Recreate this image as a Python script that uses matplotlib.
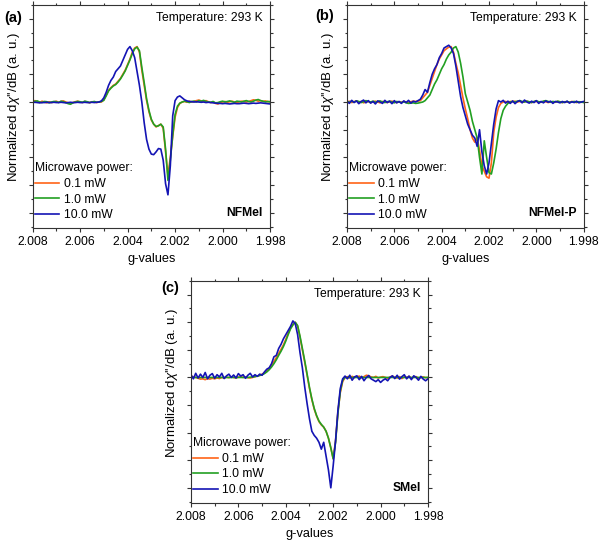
import numpy as np
import matplotlib
matplotlib.use("Agg")
import matplotlib.pyplot as plt
from matplotlib.ticker import MultipleLocator, FormatStrFormatter

plt.rcParams['font.family'] = ['Liberation Sans', 'DejaVu Sans']
plt.rcParams['mathtext.fontset'] = 'custom'
plt.rcParams['mathtext.rm'] = 'Liberation Sans'
plt.rcParams['mathtext.it'] = 'Liberation Sans:italic'

# g-value sampling grid (2.0080 -> 1.9980, step 0.0001)
g_values = np.round(np.linspace(2.008, 1.998, 101), 4)

series_labels = ["0.1 mW", "1.0 mW", "10.0 mW"]
series_colors = ["#ff6418", "#22a022", "#1414b4"]

# ---- Panel (a) NFMel ----
a_01 = [0.02, 0.05, 0.01, -0.02, 0.03, 0.0, -0.03, 0.01, -0.02, 0.0,
        0.03, -0.01, 0.02, 0.04, 0.0, -0.03, -0.05, -0.02, 0.01, 0.03,
        0.0, -0.02, 0.02, 0.0, -0.03, 0.01, 0.0, -0.02, 0.0, 0.0,
        0.08, 0.25, 0.42, 0.52, 0.6, 0.65, 0.75, 0.85, 1.0, 1.15,
        1.35, 1.55, 1.8, 1.95, 2.0, 1.8, 1.15, 0.6, 0.06, -0.35,
        -0.65, -0.8, -0.9, -0.85, -0.8, -0.95, -1.8, -2.65, -2.0, -1.25,
        -0.55, -0.2, -0.05, 0.0, 0.02, -0.01, 0.03, 0.0, 0.02, 0.05,
        0.07, 0.04, 0.02, 0.05, 0.01, -0.02, 0.0, -0.05, -0.07, -0.03,
        0.0, 0.02, -0.01, 0.01, 0.03, 0.0, -0.02, 0.01, 0.03, 0.02,
        0.0, 0.02, 0.05, 0.08, 0.06, 0.03, 0.05, 0.02, 0.04, 0.01,
        0.02]
a_10 = [0.0, 0.03, 0.04, 0.0, -0.02, 0.02, 0.01, -0.03, 0.0, 0.02,
        0.01, -0.02, 0.03, 0.01, -0.02, -0.06, -0.08, -0.03, 0.0, 0.02,
        0.01, -0.01, 0.03, 0.01, -0.02, 0.0, 0.02, -0.01, 0.0, 0.02,
        0.06, 0.22, 0.4, 0.5, 0.58, 0.63, 0.72, 0.83, 0.97, 1.12,
        1.32, 1.52, 1.75, 1.92, 1.98, 1.85, 1.25, 0.7, 0.12, -0.3,
        -0.62, -0.8, -0.88, -0.86, -0.8, -0.9, -1.7, -2.83, -2.1, -1.2,
        -0.45, -0.15, -0.04, 0.0, 0.03, 0.01, -0.02, 0.02, 0.03, 0.0,
        0.05, 0.03, 0.06, 0.02, 0.0, -0.01, 0.02, -0.03, -0.02, 0.01,
        0.03, 0.0, 0.02, 0.04, 0.01, -0.01, 0.03, 0.02, 0.0, 0.03,
        0.05, 0.02, 0.0, 0.03, 0.07, 0.09, 0.05, 0.03, 0.0, 0.02,
        0.0]
a_100 = [-0.02, -0.01, -0.02, -0.03, -0.02, -0.02, -0.01, -0.02, -0.02, -0.01,
         -0.02, -0.02, -0.01, -0.02, -0.03, -0.02, -0.01, -0.02, -0.02, -0.01,
         -0.02, -0.02, -0.01, -0.02, -0.02, -0.01, -0.02, -0.01, 0.0, 0.04,
         0.15, 0.35, 0.6, 0.78, 0.9, 1.1, 1.2, 1.3, 1.5, 1.7,
         1.9, 2.0, 1.85, 1.6, 1.1, 0.6, 0.0, -0.75, -1.35, -1.7,
         -1.88, -1.9, -1.8, -1.68, -1.7, -2.1, -2.95, -3.35, -2.3, -0.5,
         0.05, 0.18, 0.22, 0.15, 0.08, 0.04, 0.02, 0.01, 0.0, 0.01,
         0.0, -0.01, 0.0, -0.02, -0.01, -0.02, -0.03, -0.04, -0.05, -0.05,
         -0.06, -0.05, -0.06, -0.07, -0.06, -0.05, -0.06, -0.06, -0.05, -0.04,
         -0.05, -0.06, -0.05, -0.04, -0.05, -0.04, -0.03, -0.04, -0.05, -0.06,
         -0.07]

# ---- Panel (b) NFMel-P ----
b_01 = [0.0, 0.03, -0.02, 0.01, 0.04, -0.01, 0.02, -0.03, 0.0, 0.02,
        -0.02, 0.01, 0.03, 0.0, -0.03, 0.02, 0.0, -0.02, 0.01, 0.03,
        0.0, -0.02, 0.01, -0.01, 0.02, 0.0, -0.02, 0.01, 0.03, 0.02,
        0.03, 0.05, 0.15, 0.25, 0.35, 0.6, 0.85, 1.1, 1.35, 1.55,
        1.7, 1.85, 1.92, 1.98, 2.0, 1.8, 1.4, 1.05, 0.6, 0.15,
        -0.25, -0.6, -1.0, -1.3, -1.45, -1.3, -1.75, -2.3, -2.5, -2.7,
        -2.75, -2.2, -1.1, -0.55, -0.2, -0.05, 0.0, 0.02, -0.01, 0.02,
        0.01, 0.03, 0.0, 0.02, -0.01, 0.01, 0.03, 0.0, -0.02, 0.01,
        0.02, 0.0, -0.01, 0.02, 0.01, -0.02, 0.0, 0.01, -0.01, 0.02,
        0.0, -0.02, 0.01, 0.0, -0.01, 0.02, 0.0, -0.02, 0.01, -0.01,
        0.0]
b_10 = [0.02, -0.01, 0.03, 0.0, 0.04, 0.02, -0.02, 0.01, 0.05, 0.02,
        0.0, 0.03, -0.01, 0.02, 0.04, 0.0, -0.02, 0.01, 0.03, 0.0,
        -0.03, 0.02, 0.0, -0.02, 0.01, -0.03, -0.05, -0.04, -0.03, -0.05,
        -0.04, -0.02, 0.0, 0.05, 0.15, 0.25, 0.45, 0.65, 0.8, 1.0,
        1.2, 1.35, 1.55, 1.7, 1.8, 1.95, 2.0, 1.8, 1.4, 0.9,
        0.3, 0.0, -0.3, -0.7, -1.0, -1.3, -2.0, -2.6, -1.4, -2.0,
        -2.55, -2.6, -2.2, -1.7, -1.1, -0.6, -0.3, -0.15, -0.05, 0.0,
        0.02, 0.0, 0.03, 0.05, 0.02, 0.0, 0.03, 0.01, -0.02, 0.02,
        0.04, 0.01, 0.0, 0.03, 0.05, 0.02, -0.01, 0.02, 0.0, 0.03,
        0.01, -0.02, 0.0, 0.02, -0.01, 0.0, 0.02, -0.01, 0.01, 0.0,
        -0.02]
b_100 = [0.03, -0.05, 0.06, -0.02, 0.04, -0.06, 0.02, 0.07, -0.03, 0.05,
         -0.04, 0.02, -0.07, 0.04, 0.0, -0.05, 0.06, -0.02, 0.03, -0.06,
         0.05, -0.03, 0.02, -0.05, 0.04, -0.02, 0.06, -0.04, 0.03, 0.0,
         0.05, 0.1, 0.25, 0.45, 0.35, 0.7, 1.0, 1.2, 1.35, 1.6,
         1.75, 1.95, 2.0, 2.05, 1.95, 1.75, 1.3, 0.75, 0.2, -0.2,
         -0.5, -0.8, -1.0, -1.2, -1.3, -1.6, -1.0, -1.8, -2.3, -2.6,
         -2.2, -1.5, -0.8, -0.25, 0.05, 0.0, 0.06, -0.04, 0.03, -0.05,
         0.04, -0.06, 0.02, 0.05, -0.03, 0.07, 0.0, -0.04, 0.03, -0.02,
         0.05, -0.05, 0.02, -0.03, 0.04, -0.01, 0.03, -0.05, 0.02, 0.0,
         -0.03, 0.02, -0.02, 0.03, -0.04, 0.01, -0.02, 0.03, -0.03, 0.0,
         0.02]

# ---- Panel (c) SMel ----
c_01 = [0.05, 0.02, 0.0, -0.03, -0.06, -0.05, -0.08, -0.04, -0.06, -0.03,
        -0.05, -0.02, -0.04, 0.0, -0.02, 0.01, -0.01, 0.02, 0.0, -0.02,
        0.01, 0.03, 0.0, 0.02, -0.01, -0.02, 0.0, 0.03, 0.05, 0.08,
        0.12, 0.17, 0.24, 0.33, 0.45, 0.58, 0.72, 0.87, 1.02, 1.18,
        1.38, 1.6, 1.8, 1.92, 2.0, 1.85, 1.45, 1.0, 0.55, 0.08,
        -0.4, -0.8, -1.15, -1.4, -1.6, -1.72, -1.8, -1.95, -2.2, -2.55,
        -2.95, -2.3, -1.25, -0.55, -0.15, 0.0, 0.03, -0.02, 0.04, 0.0,
        0.02, 0.05, -0.01, 0.03, 0.08, 0.06, 0.02, 0.0, 0.04, -0.02,
        0.01, 0.03, 0.0, -0.03, 0.02, 0.05, 0.0, -0.02, 0.03, -0.04,
        0.02, 0.0, 0.04, -0.02, 0.01, 0.03, -0.03, 0.0, 0.02, -0.01,
        0.0]
c_10 = [0.0, 0.0, 0.0, 0.0, 0.0, 0.0, 0.0, 0.0, 0.0, 0.0,
        0.0, 0.0, 0.0, 0.0, 0.0, 0.0, 0.0, 0.0, 0.0, 0.0,
        0.0, 0.0, 0.0, 0.0, 0.0, 0.01, 0.02, 0.03, 0.05, 0.07,
        0.1, 0.14, 0.2, 0.28, 0.38, 0.5, 0.64, 0.8, 0.95, 1.12,
        1.32, 1.55, 1.76, 1.9, 2.0, 1.88, 1.5, 1.05, 0.6, 0.12,
        -0.36, -0.78, -1.12, -1.38, -1.58, -1.7, -1.8, -1.95, -2.2, -2.55,
        -2.95, -2.35, -1.3, -0.5, -0.1, 0.0, 0.0, 0.0, 0.0, 0.0,
        0.0, 0.0, 0.0, 0.0, 0.0, 0.0, 0.0, 0.0, 0.0, 0.0,
        0.0, 0.0, 0.0, 0.0, 0.0, 0.0, 0.0, 0.0, 0.0, 0.0,
        0.0, 0.0, 0.0, 0.0, 0.0, 0.0, 0.0, 0.0, 0.0, 0.0,
        0.0]
c_100 = [0.1, -0.05, 0.15, -0.02, 0.12, 0.0, 0.18, -0.05, 0.08, 0.14,
         -0.03, 0.1, 0.02, 0.15, -0.04, 0.06, 0.12, 0.0, 0.09, -0.02,
         0.14, 0.05, 0.1, -0.03, 0.08, 0.15, 0.02, 0.1, 0.04, 0.12,
         0.08, 0.2, 0.3, 0.35, 0.5, 0.75, 0.8, 1.05, 1.2, 1.4,
         1.55, 1.7, 1.85, 2.05, 1.95, 1.55, 0.9, 0.35, -0.35, -0.95,
         -1.5, -1.95, -2.1, -2.2, -2.35, -2.6, -2.35, -2.85, -3.35, -4.0,
         -3.2, -2.3, -1.2, -0.4, -0.05, 0.05, -0.05, 0.08, -0.1, 0.02,
         0.06, -0.08, 0.04, -0.12, 0.0, 0.07, -0.05, -0.1, -0.15, -0.08,
         -0.18, -0.1, -0.05, -0.12, 0.0, 0.06, -0.04, 0.08, -0.06, 0.03,
         0.1, -0.05, 0.05, -0.08, 0.06, 0.0, -0.1, 0.04, -0.06, -0.12,
         -0.05]

panels = [
    dict(letter="a", sample="NFMel", data=[a_01, a_10, a_100],
         rect=[0.0542, 0.580, 0.396, 0.4107], lab=(22, 18)),
    dict(letter="b", sample="NFMel-P", data=[b_01, b_10, b_100],
         rect=[0.5783, 0.580, 0.3945, 0.4107], lab=(334, 16)),
    dict(letter="c", sample="SMel", data=[c_01, c_10, c_100],
         rect=[0.3183, 0.0737, 0.395, 0.409], lab=(179, 288)),
]

W, H = 600, 543
fig = plt.figure(figsize=(W / 100, H / 100), dpi=100)
fs = 8.7

for p in panels:
    ax = fig.add_axes(p["rect"])
    for ys, lab, col in zip(p["data"], series_labels, series_colors):
        ax.plot(g_values, ys, color=col, lw=1.2, label=lab)
    ax.set_xlim(2.008, 1.998)
    ax.set_ylim(-4.55, 3.5)
    ax.xaxis.set_major_locator(MultipleLocator(0.002))
    ax.xaxis.set_minor_locator(MultipleLocator(0.001))
    ax.xaxis.set_major_formatter(FormatStrFormatter('%.3f'))
    ax.yaxis.set_major_locator(MultipleLocator(1))
    ax.yaxis.set_minor_locator(MultipleLocator(0.5))
    ax.tick_params(which='both', direction='out', top=True, right=True,
                   labelleft=False, labelsize=fs, width=0.8, pad=2.5,
                   color='#333333')
    ax.tick_params(which='major', length=3)
    ax.tick_params(which='minor', length=1.8)
    for s in ax.spines.values():
        s.set_linewidth(0.8)
        s.set_color('#333333')
    ax.set_xlabel("g-values", fontsize=9.2, labelpad=4)
    ax.set_ylabel("Normalized d$\\chi$''/dB (a. u.)", fontsize=9.5)
    ax.yaxis.set_label_coords(-0.045, 0.54)
    ax.text(0.97, 0.94, "Temperature: 293 K", transform=ax.transAxes,
            ha='right', va='center', fontsize=fs)
    ax.text(0.97, 0.067, p["sample"], transform=ax.transAxes,
            ha='right', va='center', fontsize=fs, fontweight='bold')
    leg = ax.legend(title="Microwave power:", loc='lower left',
                    bbox_to_anchor=(0.0, 0.02), frameon=False,
                    alignment='left', fontsize=fs, title_fontsize=fs,
                    handlelength=2.0, handletextpad=0.4,
                    labelspacing=0.3, borderpad=0.2, borderaxespad=0.0)
    lx, ly = p["lab"]
    fig.text(lx / W, 1 - ly / H, "(" + p["letter"] + ")", ha='right',
             va='center', fontsize=10.5, fontweight='bold')

fig.savefig("out.png", dpi=100)
